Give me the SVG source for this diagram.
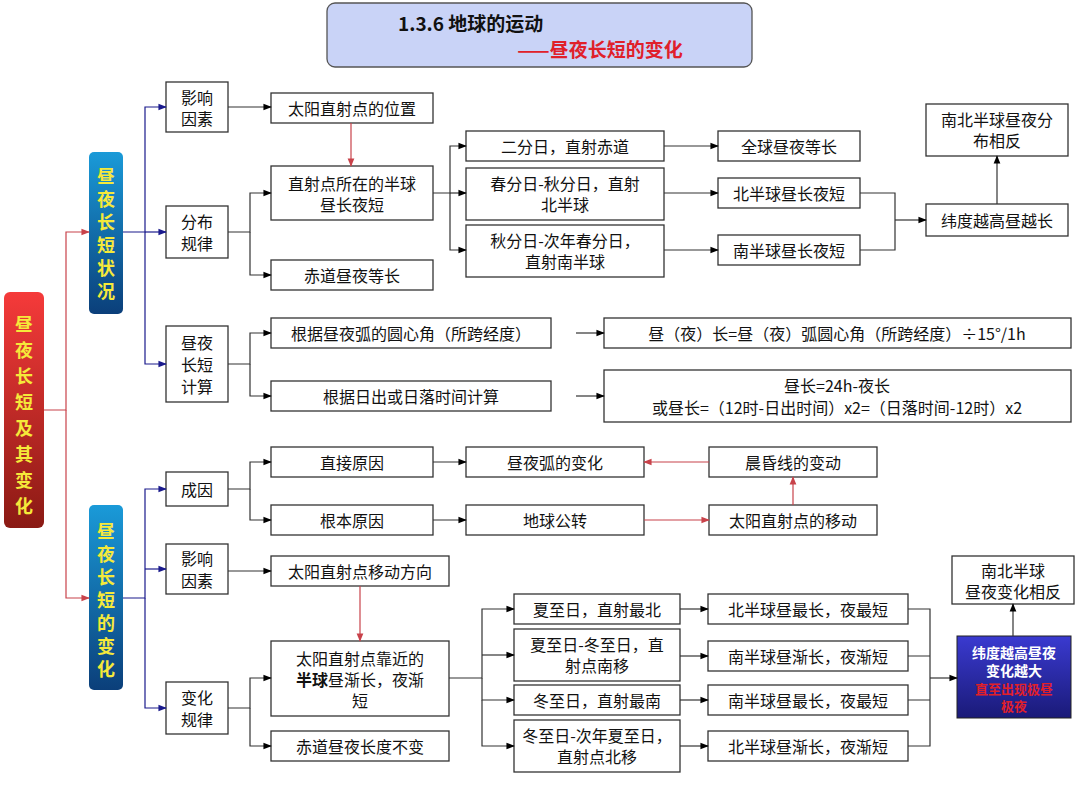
<svg xmlns="http://www.w3.org/2000/svg" width="1080" height="810" viewBox="0 0 1080 810">
<defs>
<marker id="ak" viewBox="0 0 10 10" refX="9" refY="5" markerWidth="7" markerHeight="7" orient="auto"><path d="M0,1 L10,5 L0,9 z" fill="#000"/></marker>
<marker id="an" viewBox="0 0 10 10" refX="9" refY="5" markerWidth="7" markerHeight="7" orient="auto"><path d="M0,1 L10,5 L0,9 z" fill="#1a1a8c"/></marker>
<marker id="ar" viewBox="0 0 10 10" refX="9" refY="5" markerWidth="7" markerHeight="7" orient="auto"><path d="M0,1 L10,5 L0,9 z" fill="#c8424a"/></marker>
<linearGradient id="gr" x1="0" y1="0" x2="0" y2="1"><stop offset="0" stop-color="#f53a3a"/><stop offset="1" stop-color="#8a1a14"/></linearGradient>
<linearGradient id="gb" x1="0" y1="0" x2="0" y2="1"><stop offset="0" stop-color="#1a9ad8"/><stop offset="1" stop-color="#0b3f7a"/></linearGradient>
<linearGradient id="gp" x1="0" y1="0" x2="0" y2="1"><stop offset="0" stop-color="#3a3ad0"/><stop offset="1" stop-color="#1a1a78"/></linearGradient>
</defs>
<style>
.b{fill:#fff;stroke:#333;stroke-width:1.3}
text{font-family:"Noto Sans CJK SC","Liberation Sans",sans-serif;font-size:16px;fill:#111;text-anchor:middle;dominant-baseline:central}
.v{font-size:18px;font-weight:bold;fill:#f5e93a}
.l{fill:none;stroke:#333;stroke-width:1.2}
.ln{fill:none;stroke:#1a1a8c;stroke-width:1.2}
.lr{fill:none;stroke:#c8424a;stroke-width:1.2}
</style>
<rect width="1080" height="810" fill="#fff"/>
<g id="title"><rect x="327" y="3" width="425" height="64" rx="8" fill="#c9d3f7" stroke="#555" stroke-width="1.3"/>
<text x="398" y="22" style="font-weight:bold;font-size:19px;text-anchor:start">1.3.6  地球的运动</text>
<text x="600" y="48" style="font-weight:bold;font-size:19px;fill:#e0202a">——昼夜长短的变化</text></g>

<g id="root"><rect x="4" y="292" width="40" height="236" rx="6" fill="url(#gr)"/>
<text class="v" x="24" y="323">昼</text><text class="v" x="24" y="349">夜</text><text class="v" x="24" y="375">长</text><text class="v" x="24" y="401">短</text><text class="v" x="24" y="427">及</text><text class="v" x="24" y="453">其</text><text class="v" x="24" y="479">变</text><text class="v" x="24" y="505">化</text></g>
<g id="A"><rect x="89" y="152" width="34" height="162" rx="5" fill="url(#gb)"/>
<text class="v" x="106" y="175">昼</text><text class="v" x="106" y="198">夜</text><text class="v" x="106" y="221">长</text><text class="v" x="106" y="244">短</text><text class="v" x="106" y="267">状</text><text class="v" x="106" y="290">况</text></g>
<g id="B"><rect x="89" y="505" width="34" height="185" rx="5" fill="url(#gb)"/>
<text class="v" x="106" y="530">昼</text><text class="v" x="106" y="553">夜</text><text class="v" x="106" y="576">长</text><text class="v" x="106" y="599">短</text><text class="v" x="106" y="622">的</text><text class="v" x="106" y="645">变</text><text class="v" x="106" y="668">化</text></g>

<g id="n1"><rect class="b" x="166" y="82" width="62" height="50"/><text x="197" y="97">影响</text><text x="197" y="118">因素</text></g>
<g id="n2"><rect class="b" x="166" y="206" width="62" height="52"/><text x="197" y="221">分布</text><text x="197" y="243">规律</text></g>
<g id="n3"><rect class="b" x="166" y="326" width="62" height="76"/><text x="197" y="342">昼夜</text><text x="197" y="364">长短</text><text x="197" y="386">计算</text></g>
<g id="n4"><rect class="b" x="166" y="472" width="62" height="34"/><text x="197" y="489">成因</text></g>
<g id="n5"><rect class="b" x="166" y="544" width="62" height="50"/><text x="197" y="558">影响</text><text x="197" y="580">因素</text></g>
<g id="n6"><rect class="b" x="166" y="682" width="62" height="52"/><text x="197" y="697">变化</text><text x="197" y="719">规律</text></g>

<g id="c1"><rect class="b" x="271" y="93" width="162" height="30"/><text x="352" y="108">太阳直射点的位置</text></g>
<g id="c2"><rect class="b" x="271" y="166" width="162" height="54"/><text x="352" y="183">直射点所在的半球</text><text x="352" y="204">昼长夜短</text></g>
<g id="c3"><rect class="b" x="271" y="260" width="162" height="30"/><text x="352" y="275">赤道昼夜等长</text></g>
<g id="c4"><rect class="b" x="271" y="318" width="280" height="30"/><text x="411" y="333">根据昼夜弧的圆心角（所跨经度）</text></g>
<g id="c5"><rect class="b" x="271" y="381" width="280" height="30"/><text x="411" y="396">根据日出或日落时间计算</text></g>
<g id="c6"><rect class="b" x="604" y="318" width="467" height="30"/><text x="837" y="333">昼（夜）长=昼（夜）弧圆心角（所跨经度）÷15°/1h</text></g>
<g id="c7"><rect class="b" x="604" y="370" width="467" height="52"/><text x="837" y="385">昼长=24h-夜长</text><text x="837" y="407">或昼长=（12时-日出时间）x2=（日落时间-12时）x2</text></g>
<g id="d1"><rect class="b" x="466" y="131" width="198" height="30"/><text x="565" y="146">二分日，直射赤道</text></g>
<g id="d2"><rect class="b" x="466" y="168" width="198" height="52"/><text x="565" y="183">春分日-秋分日，直射</text><text x="565" y="204">北半球</text></g>
<g id="d3"><rect class="b" x="466" y="225" width="198" height="52"/><text x="565" y="240">秋分日-次年春分日，</text><text x="565" y="261">直射南半球</text></g>
<g id="e1"><rect class="b" x="718" y="131" width="142" height="30"/><text x="789" y="146">全球昼夜等长</text></g>
<g id="e2"><rect class="b" x="718" y="178" width="142" height="30"/><text x="789" y="193">北半球昼长夜短</text></g>
<g id="e3"><rect class="b" x="718" y="235" width="142" height="30"/><text x="789" y="250">南半球昼长夜短</text></g>
<g id="f1"><rect class="b" x="926" y="204" width="142" height="32"/><text x="997" y="220">纬度越高昼越长</text></g>
<g id="f2"><rect class="b" x="926" y="104" width="142" height="52"/><text x="997" y="119">南北半球昼夜分</text><text x="997" y="140">布相反</text></g>

<g id="g1"><rect class="b" x="271" y="447" width="162" height="30"/><text x="352" y="462">直接原因</text></g>
<g id="g2"><rect class="b" x="271" y="505" width="162" height="30"/><text x="352" y="520">根本原因</text></g>
<g id="g3"><rect class="b" x="466" y="447" width="178" height="30"/><text x="555" y="462">昼夜弧的变化</text></g>
<g id="g4"><rect class="b" x="466" y="505" width="178" height="30"/><text x="555" y="520">地球公转</text></g>
<g id="g5"><rect class="b" x="709" y="447" width="168" height="30"/><text x="793" y="462">晨昏线的变动</text></g>
<g id="g6"><rect class="b" x="709" y="505" width="168" height="30"/><text x="793" y="520">太阳直射点的移动</text></g>
<g id="h1"><rect class="b" x="271" y="556" width="178" height="30"/><text x="360" y="571">太阳直射点移动方向</text></g>
<g id="h2"><rect class="b" x="271" y="641" width="178" height="75"/><text x="360" y="658">太阳直射点靠近的</text><text x="360" y="679"><tspan style="font-weight:bold">半球</tspan>昼渐长，夜渐</text><text x="360" y="700">短</text></g>
<g id="h3"><rect class="b" x="271" y="731" width="178" height="30"/><text x="360" y="746">赤道昼夜长度不变</text></g>
<g id="i1"><rect class="b" x="514" y="594" width="166" height="30"/><text x="597" y="609">夏至日，直射最北</text></g>
<g id="i2"><rect class="b" x="514" y="629" width="166" height="52"/><text x="597" y="644">夏至日-冬至日，直</text><text x="597" y="665">射点南移</text></g>
<g id="i3"><rect class="b" x="514" y="685" width="166" height="30"/><text x="597" y="700">冬至日，直射最南</text></g>
<g id="i4"><rect class="b" x="514" y="720" width="166" height="52"/><text x="597" y="735">冬至日-次年夏至日，</text><text x="597" y="756">直射点北移</text></g>
<g id="j1"><rect class="b" x="708" y="594" width="200" height="30"/><text x="808" y="609">北半球昼最长，夜最短</text></g>
<g id="j2"><rect class="b" x="708" y="641" width="200" height="30"/><text x="808" y="656">南半球昼渐长，夜渐短</text></g>
<g id="j3"><rect class="b" x="708" y="685" width="200" height="30"/><text x="808" y="700">南半球昼最长，夜最短</text></g>
<g id="j4"><rect class="b" x="708" y="731" width="200" height="30"/><text x="808" y="746">北半球昼渐长，夜渐短</text></g>
<g id="k1"><rect x="957" y="636" width="114" height="82" fill="url(#gp)" stroke="#222"/><text x="1014" y="652" style="font-size:14px;font-weight:bold;fill:#fff">纬度越高昼夜</text><text x="1014" y="670" style="font-size:14px;font-weight:bold;fill:#fff">变化越大</text><text x="1014" y="688" style="font-size:13px;font-weight:bold;fill:#e0202a">直至出现极昼</text><text x="1014" y="705" style="font-size:13px;font-weight:bold;fill:#e0202a">极夜</text></g>
<g id="k2"><rect class="b" x="952" y="556" width="122" height="48"/><text x="1013" y="570">南北半球</text><text x="1013" y="591">昼夜变化相反</text></g>

<g id="connectors">
<path class="lr" d="M44,410 H66 V232 H89" marker-end="url(#ar)"/>
<path class="lr" d="M66,410 V598 H89" marker-end="url(#ar)"/>
<path class="ln" d="M123,232 H145 V107 H166" marker-end="url(#an)"/>
<path class="ln" d="M145,232 H166" marker-end="url(#an)"/>
<path class="ln" d="M145,232 V364 H166" marker-end="url(#an)"/>
<path class="ln" d="M123,598 H145 V489 H166" marker-end="url(#an)"/>
<path class="ln" d="M145,569 H166" marker-end="url(#an)"/>
<path class="ln" d="M145,598 V708 H166" marker-end="url(#an)"/>
<path class="l" d="M228,107 H271" marker-end="url(#ak)"/>
<path class="l" d="M228,232 H250 V193 H271" marker-end="url(#ak)"/>
<path class="l" d="M250,232 V275 H271" marker-end="url(#ak)"/>
<path class="l" d="M228,364 H250 V333 H271" marker-end="url(#ak)"/>
<path class="l" d="M250,364 V396 H271" marker-end="url(#ak)"/>
<path class="lr" d="M351,123 V166" marker-end="url(#ar)"/>
<path class="l" d="M576,333 H604" marker-end="url(#ak)"/>
<path class="l" d="M576,396 H604" marker-end="url(#ak)"/>
<path class="l" d="M433,193 H450 V146 H466" marker-end="url(#ak)"/>
<path class="l" d="M450,193 H466" marker-end="url(#ak)"/>
<path class="l" d="M450,193 V250 H466" marker-end="url(#ak)"/>
<path class="l" d="M664,146 H718" marker-end="url(#ak)"/>
<path class="l" d="M664,193 H718" marker-end="url(#ak)"/>
<path class="l" d="M664,250 H718" marker-end="url(#ak)"/>
<path class="l" d="M860,193 H895 V250 H860"/>
<path class="l" d="M895,220 H926" marker-end="url(#ak)"/>
<path class="l" d="M997,204 V156" marker-end="url(#ak)"/>
<path class="l" d="M228,489 H250 V462 H271" marker-end="url(#ak)"/>
<path class="l" d="M250,489 V520 H271" marker-end="url(#ak)"/>
<path class="l" d="M433,462 H466" marker-end="url(#ak)"/>
<path class="l" d="M433,520 H466" marker-end="url(#ak)"/>
<path class="lr" d="M709,462 H644" marker-end="url(#ar)"/>
<path class="lr" d="M644,520 H709" marker-end="url(#ar)"/>
<path class="lr" d="M793,505 V477" marker-end="url(#ar)"/>
<path class="l" d="M228,571 H271" marker-end="url(#ak)"/>
<path class="lr" d="M360,586 V641" marker-end="url(#ar)"/>
<path class="l" d="M228,708 H250 V678 H271" marker-end="url(#ak)"/>
<path class="l" d="M250,708 V746 H271" marker-end="url(#ak)"/>
<path class="l" d="M449,678 H482 V609 H514" marker-end="url(#ak)"/>
<path class="l" d="M482,655 H514" marker-end="url(#ak)"/>
<path class="l" d="M482,678 V700 H514" marker-end="url(#ak)"/>
<path class="l" d="M482,700 V746 H514" marker-end="url(#ak)"/>
<path class="l" d="M680,609 H708" marker-end="url(#ak)"/>
<path class="l" d="M680,656 H708" marker-end="url(#ak)"/>
<path class="l" d="M680,700 H708" marker-end="url(#ak)"/>
<path class="l" d="M680,746 H708" marker-end="url(#ak)"/>
<path class="l" d="M908,609 H930 V746 H908 M908,656 H930 M908,700 H930"/>
<path class="l" d="M930,678 H957" marker-end="url(#ak)"/>
<path class="l" d="M1013,636 V604" marker-end="url(#ak)"/>
</g>
</svg>
